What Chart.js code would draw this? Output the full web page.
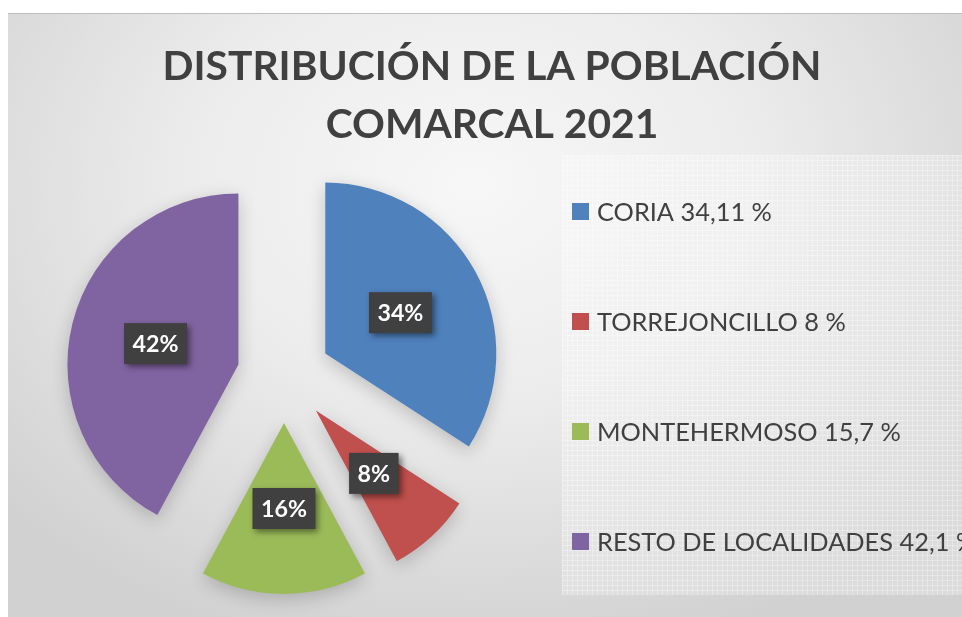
<!DOCTYPE html>
<html>
<head>
<meta charset="utf-8">
<script src="https://cdn.jsdelivr.net/npm/chart.js@4.4.0/dist/chart.umd.min.js"></script>
<style>
  html, body { margin: 0; padding: 0; background: #fff; overflow: hidden; width: 962px; height: 617px; }
  #frame {
    position: absolute; left: 8px; top: 13px; width: 968px; height: 603px;
    border-top: 1px solid #bdbdbd;
    background: radial-gradient(ellipse 65% 80% at 48% 28%, #f7f7f7 0%, #ececec 45%, #d1d1d1 100%);
  }
  canvas { display: block; }
</style>
</head>
<body>
<div id="frame"><canvas id="chart" width="968" height="603"></canvas></div>
<script>
  const categories = ['CORIA 34,11 %', 'TORREJONCILLO 8 %', 'MONTEHERMOSO 15,7 %', 'RESTO DE LOCALIDADES 42,1 %'];
  const shares = [34.11, 8, 15.7, 42.1];
  const sliceColors = ['#4F81BD', '#C0504D', '#9BBB59', '#8064A2'];
  const titleLines = ['DISTRIBUCIÓN DE LA POBLACIÓN', 'COMARCAL 2021'];

  const FONT = 'Lato, "Open Sans", sans-serif';
  const TEXT = '#404040';
  const EXPLODE = 47; // how far every slice is pulled out

  // chart.js' own "offset" also grows thin slices, so move the whole slice instead
  const baseArcDraw = Chart.ArcElement.prototype.draw;
  Chart.ArcElement.prototype.draw = function (ctx) {
    const a = (this.startAngle + this.endAngle) / 2;
    ctx.save();
    ctx.translate(Math.cos(a) * EXPLODE, Math.sin(a) * EXPLODE);
    baseArcDraw.call(this, ctx);
    ctx.restore();
  };

  // scale a font so a sample string comes out at the width seen in the picture
  function fitSize(text, weight, targetW) {
    const c = document.createElement('canvas').getContext('2d');
    c.font = weight + ' 50px ' + FONT;
    return 50 * targetW / c.measureText(text).width;
  }
  const titleSize = fitSize(titleLines[0], 'bold', 659);
  const legendSize = fitSize(categories[0], 'normal', 175);
  const labelSize = fitSize('42%', 'bold', 46);

  // title centred on the whole frame, not on the pie area
  const frameTitle = {
    id: 'frameTitle',
    afterDraw(chart) {
      const ctx = chart.ctx;
      ctx.save();
      ctx.font = 'bold ' + titleSize + 'px ' + FONT;
      ctx.fillStyle = TEXT;
      ctx.textAlign = 'center';
      ctx.textBaseline = 'middle';
      titleLines.forEach((t, i) => ctx.fillText(t, chart.width / 2, 52.5 + i * 58.5));
      ctx.restore();
    }
  };

  // legend panel with the faint grid texture, drawn under the pie
  const legendPanel = {
    id: 'legendPanel',
    beforeDraw(chart) {
      const ctx = chart.ctx;
      const x0 = 554, y0 = 141, x1 = chart.width, y1 = 581;
      ctx.save();
      ctx.fillStyle = 'rgba(255,255,255,0.22)';
      ctx.fillRect(x0, y0, x1 - x0, y1 - y0);
      ctx.strokeStyle = 'rgba(255,255,255,0.3)';
      ctx.lineWidth = 1;
      ctx.beginPath();
      for (let x = x0 + 0.5; x < x1; x += 5) { ctx.moveTo(x, y0); ctx.lineTo(x, y1); }
      for (let y = y0 + 0.5; y < y1; y += 5) { ctx.moveTo(x0, y); ctx.lineTo(x1, y); }
      ctx.stroke();
      ctx.restore();
    },
    afterDraw(chart) {
      const ctx = chart.ctx;
      const ds = chart.data.datasets[0];
      ctx.save();
      ctx.font = legendSize + 'px ' + FONT;
      ctx.textBaseline = 'middle';
      chart.data.labels.forEach((lab, i) => {
        const cy = 197.5 + i * 110;
        ctx.fillStyle = ds.backgroundColor[i];
        ctx.fillRect(564, cy - 8.5, 17, 17);
        ctx.fillStyle = TEXT;
        ctx.fillText(lab, 589, cy + 1.5);
      });
      ctx.restore();
    }
  };

  // soft shadow below the slices
  const sliceShadow = {
    id: 'sliceShadow',
    beforeDatasetsDraw(chart) {
      const ctx = chart.ctx;
      ctx.save();
      ctx.shadowColor = 'rgba(0,0,0,0.2)';
      ctx.shadowBlur = 18;
      ctx.shadowOffsetY = 5;
    },
    afterDatasetsDraw(chart) {
      chart.ctx.restore();
    }
  };

  // percentage labels in dark boxes
  const pctLabels = {
    id: 'pctLabels',
    afterDatasetsDraw(chart) {
      const ctx = chart.ctx;
      const meta = chart.getDatasetMeta(0);
      const total = shares.reduce((a, b) => a + b, 0);
      ctx.save();
      ctx.font = 'bold ' + labelSize + 'px ' + FONT;
      ctx.textAlign = 'center';
      ctx.textBaseline = 'middle';
      meta.data.forEach((arc, i) => {
        const p = arc.getProps(['x', 'y', 'startAngle', 'endAngle', 'outerRadius']);
        const a = (p.startAngle + p.endAngle) / 2;
        const r = EXPLODE + p.outerRadius / 2;
        const cx = p.x + Math.cos(a) * r;
        const cy = p.y + Math.sin(a) * r;
        const txt = Math.round(shares[i] / total * 100) + '%';
        const w = ctx.measureText(txt).width + 17, h = 41;
        ctx.save();
        ctx.shadowColor = 'rgba(0,0,0,0.45)';
        ctx.shadowBlur = 6;
        ctx.shadowOffsetX = 3;
        ctx.shadowOffsetY = 3;
        ctx.fillStyle = '#404040';
        ctx.fillRect(cx - w / 2, cy - h / 2, w, h);
        ctx.restore();
        ctx.fillStyle = '#ffffff';
        ctx.fillText(txt, cx, cy + 1);
      });
      ctx.restore();
    }
  };

  new Chart(document.getElementById('chart'), {
    type: 'pie',
    data: {
      labels: categories,
      datasets: [{
        data: shares,
        backgroundColor: sliceColors,
        borderWidth: 0,
        radius: 171
      }]
    },
    options: {
      responsive: false,
      animation: false,
      events: [],
      layout: { padding: { left: 0, right: 416, top: 140, bottom: 19 } },
      plugins: {
        legend: { display: false },
        tooltip: { enabled: false },
        title: { display: false }
      }
    },
    plugins: [legendPanel, sliceShadow, pctLabels, frameTitle]
  });
</script>
</body>
</html>
